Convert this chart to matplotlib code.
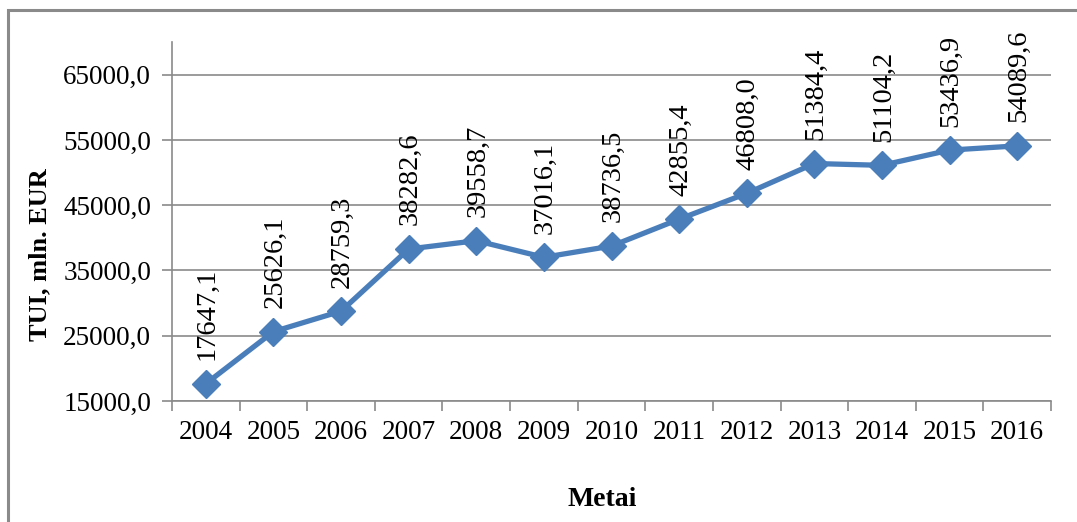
import matplotlib
matplotlib.use("Agg")
import matplotlib.pyplot as plt
from matplotlib.patches import Rectangle
from matplotlib.ticker import FixedLocator, FuncFormatter

years = ["2004", "2005", "2006", "2007", "2008", "2009", "2010",
         "2011", "2012", "2013", "2014", "2015", "2016"]
tui = [17647.1, 25626.1, 28759.3, 38282.6, 39558.7, 37016.1, 38736.5,
       42855.4, 46808.0, 51384.4, 51104.2, 53436.9, 54089.6]
y_ticks = [15000, 25000, 35000, 45000, 55000, 65000]

plt.rcParams["font.family"] = ["Liberation Serif", "DejaVu Serif"]

W, H, DPI = 1077, 522, 100
fig = plt.figure(figsize=(W / DPI, H / DPI), dpi=DPI)
fig.patch.set_facecolor("white")

# outer chart frame
fig.add_artist(Rectangle((8 / W, -0.05), 1.2, 1 - 10 / H + 0.05,
                         transform=fig.transFigure, fill=False,
                         edgecolor="#8a8a8a", linewidth=2.2))

left, right, top, bottom = 172, 1051, 42, 401
ax = fig.add_axes([left / W, 1 - bottom / H, (right - left) / W, (bottom - top) / H])

x = list(range(len(years)))
ax.plot(x, tui, color="#4a7ebb", linewidth=3.8, marker="D",
        markersize=14, markerfacecolor="#4a7ebb", markeredgecolor="#4a7ebb",
        zorder=3, clip_on=False)

for xi, v in zip(x, tui):
    ax.annotate(f"{v:.1f}".replace(".", ","), (xi, v), xytext=(1, 17),
                textcoords="offset points", rotation=90, ha="center",
                va="bottom", fontsize=20.5, color="black", zorder=4)

ax.set_xlim(-0.5, len(years) - 0.5)
ax.set_ylim(15000, 70000)
ax.set_xticks(x)
ax.set_xticklabels(years, fontsize=19.5)
ax.xaxis.set_minor_locator(FixedLocator([i - 0.5 for i in range(len(years) + 1)]))
ax.tick_params(axis="x", which="major", length=0, pad=14)
ax.tick_params(axis="x", which="minor", length=7, color="#8a8a8a", width=1.2)
ax.set_yticks(y_ticks)
ax.yaxis.set_major_formatter(FuncFormatter(lambda v, p: f"{v:.1f}".replace(".", ",")))
ax.tick_params(axis="y", length=7, color="#8a8a8a", width=1.2, labelsize=19.5, pad=8)

ax.grid(axis="y", color="#8a8a8a", linewidth=1.2)
ax.set_axisbelow(True)
for s in ["top", "right"]:
    ax.spines[s].set_visible(False)
for s in ["left", "bottom"]:
    ax.spines[s].set_color("#8a8a8a")
    ax.spines[s].set_linewidth(1.2)

fig.text(40 / W, 1 - 255 / H, "TUI, mln. EUR", rotation=90, ha="center",
         va="center", fontsize=19, fontweight="bold")
fig.text(602 / W, 1 - 500 / H, "Metai", ha="center", va="center",
         fontsize=20, fontweight="bold")

fig.savefig("out.png", dpi=DPI, facecolor="white")
